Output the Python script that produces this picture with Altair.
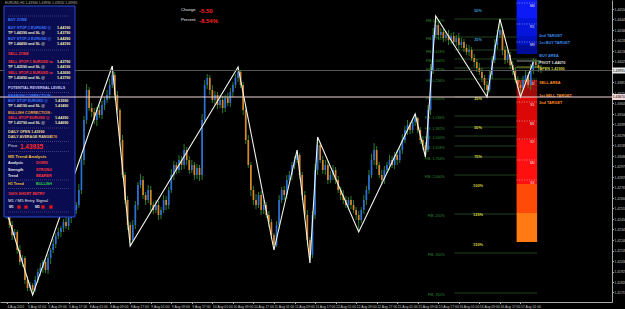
import json
import altair as alt
import pandas as pd

# ---------------- data ----------------
bar_index = list(range(209))
close = [
    1.4249, 1.4239, 1.4229, 1.4232, 1.4214, 1.4202, 1.4206, 1.4184, 1.4176, 1.4179,
    1.4174, 1.4184, 1.4192, 1.4196, 1.4202, 1.4194, 1.4206, 1.4214, 1.4220, 1.4228,
    1.4232, 1.4236, 1.4242, 1.4238, 1.4246, 1.4250, 1.4254, 1.4259, 1.4274, 1.4304,
    1.4344, 1.4374, 1.4356, 1.4352, 1.4344, 1.4354, 1.4349, 1.4359, 1.4364, 1.4369,
    1.4379, 1.4389, 1.4369, 1.4354, 1.4324, 1.4289, 1.4264, 1.4239, 1.4224, 1.4239,
    1.4259, 1.4279, 1.4284, 1.4269, 1.4264, 1.4274, 1.4259, 1.4254, 1.4259, 1.4249,
    1.4254, 1.4264, 1.4259, 1.4274, 1.4289, 1.4299, 1.4294, 1.4304, 1.4299, 1.4314,
    1.4304, 1.4294, 1.4299, 1.4289, 1.4296, 1.4289, 1.4344, 1.4379, 1.4386, 1.4374,
    1.4364, 1.4369, 1.4359, 1.4364, 1.4356, 1.4366, 1.4361, 1.4372, 1.4379, 1.4386,
    1.4392, 1.4379, 1.4354, 1.4324, 1.4299, 1.4274, 1.4264, 1.4259, 1.4269, 1.4254,
    1.4259, 1.4249, 1.4242, 1.4229, 1.4219, 1.4239, 1.4264, 1.4274, 1.4269, 1.4284,
    1.4289, 1.4299, 1.4304, 1.4309, 1.4289, 1.4269, 1.4249, 1.4224, 1.4209, 1.4249,
    1.4294, 1.4319, 1.4304, 1.4294, 1.4299, 1.4284, 1.4289, 1.4294, 1.4284, 1.4274,
    1.4269, 1.4264, 1.4259, 1.4264, 1.4259, 1.4254, 1.4249, 1.4244, 1.4254, 1.4264,
    1.4274, 1.4289, 1.4304, 1.4314, 1.4299, 1.4289, 1.4284, 1.4294, 1.4299, 1.4304,
    1.4299, 1.4309, 1.4304, 1.4314, 1.4324, 1.4334, 1.4339, 1.4334, 1.4342, 1.4346,
    1.4334, 1.4324, 1.4319, 1.4314, 1.4354, 1.4394, 1.4429, 1.4439, 1.4429, 1.4432,
    1.4426, 1.4429, 1.4424, 1.4428, 1.4422, 1.4426, 1.4419, 1.4422, 1.4416, 1.4412,
    1.4414, 1.4406, 1.4402, 1.4396, 1.4392, 1.4386, 1.4379, 1.4374, 1.4389, 1.4404,
    1.4419, 1.4429, 1.4434, 1.4414, 1.4404, 1.4409, 1.4399, 1.4394, 1.4384, 1.4379,
    1.4376, 1.4384, 1.4389, 1.4379, 1.4394, 1.4402, 1.4399, 1.4396, 1.4394,
]
first_open = 1.4254
wick_up_pips = [
    3, 2, 4, 3, 2, 5, 3, 2, 4, 3,   2, 4, 3, 5, 2, 3, 4, 2, 5, 3,
    4, 2, 3, 5, 3, 2, 4, 3, 6, 5,   4, 6, 3, 5, 4, 3, 5, 4, 3, 5,
    6, 9, 3, 4, 2, 5, 3, 4, 3, 5,   4, 3, 6, 4, 3, 5, 4, 3, 5, 4,
    3, 5, 4, 3, 6, 4, 3, 5, 4, 6,   3, 4, 5, 3, 4, 3, 6, 5, 4, 3,
    5, 4, 3, 5, 4, 3, 5, 4, 3, 4,   5, 2, 3, 4, 5, 3, 4, 6, 3, 4,
    5, 3, 4, 3, 2, 4, 5, 3, 4, 5,   4, 3, 4, 5, 2, 3, 4, 5, 3, 4,
    6, 8, 3, 4, 5, 3, 4, 5, 3, 4,   3, 5, 4, 3, 4, 5, 3, 4, 3, 5,
    4, 5, 6, 7, 4, 3, 5, 4, 3, 5,   4, 3, 5, 4, 6, 4, 5, 3, 3, 4,
    1, 3, 4, 3, 5, 6, 7, 9, 3, 4,   3, 4, 5, 3, 4, 3, 5, 4, 3, 4,
    5, 3, 4, 3, 5, 4, 3, 4, 5, 4,   6, 5, 11, 3, 4, 5, 3, 4, 3, 4,
    3, 4, 5, 3, 6, 4, 3, 4, 3,
]
wick_dn_pips = [
    4, 3, 5, 2, 4, 3, 5, 4, 3, 3,   5, 2, 3, 4, 5, 3, 4, 6, 3, 4,
    3, 5, 4, 3, 4, 5, 3, 4, 3, 4,   5, 4, 3, 5, 4, 6, 3, 4, 5, 3,
    4, 3, 5, 4, 6, 3, 4, 5, 6, 2,   4, 5, 3, 4, 5, 3, 6, 4, 3, 5,
    4, 3, 5, 4, 3, 5, 4, 3, 5, 4,   5, 4, 3, 5, 4, 6, 5, 3, 4, 5,
    3, 5, 4, 3, 5, 4, 3, 4, 5, 3,   4, 3, 5, 4, 3, 6, 5, 4, 3, 5,
    4, 3, 5, 4, 5, 2, 4, 3, 5, 4,   3, 5, 4, 3, 4, 5, 3, 6, 8, 3,
    4, 5, 3, 4, 5, 4, 3, 5, 4, 3,   5, 4, 3, 5, 4, 3, 5, 12, 3, 4,
    5, 4, 3, 5, 4, 3, 5, 4, 3, 5,   3, 4, 5, 3, 4, 3, 5, 4, 3, 4,
    3, 4, 5, 7, 2, 5, 4, 3, 4, 3,   4, 3, 5, 4, 3, 4, 5, 3, 4, 3,
    4, 3, 5, 4, 3, 4, 5, 7, 2, 4,   3, 4, 3, 5, 4, 3, 4, 5, 3, 4,
    9, 2, 4, 3, 5, 4, 3, 4, 3,
]

zigzag_bar = [0, 10, 41, 48, 90, 104, 113, 118, 121, 137, 159, 163, 167, 187, 192, 200, 205]
zigzag_price = [1.4251, 1.4169, 1.4398, 1.4218, 1.4397, 1.4214, 1.4314, 1.4201, 1.4327,
                1.4232, 1.4350, 1.4307, 1.4448, 1.4367, 1.4445, 1.4367, 1.4402]

# tick at 1.43920 is hidden behind the bid-price box in the reference
price_ticks = [1.44550, 1.44445, 1.44340, 1.44235, 1.44130, 1.44025, 1.43815,
               1.43710, 1.43605, 1.43500, 1.43395, 1.43290, 1.43185, 1.43080, 1.42975,
               1.42870, 1.42765, 1.42660, 1.42555, 1.42450, 1.42345, 1.42240, 1.42135,
               1.42030, 1.41925, 1.41820, 1.41715]
date_tick_bars = list(range(0, 201, 8))
date_labels = ["4 Aug 2011", "5 Aug 01:00", "5 Aug 09:00", "5 Aug 17:00", "8 Aug 01:00",
               "8 Aug 09:00", "8 Aug 17:00", "9 Aug 01:00", "9 Aug 09:00", "9 Aug 17:00",
               "10 Aug 01:00", "10 Aug 09:00", "10 Aug 17:00", "11 Aug 01:00", "11 Aug 09:00",
               "11 Aug 17:00", "12 Aug 01:00", "12 Aug 09:00", "12 Aug 17:00", "15 Aug 01:00",
               "15 Aug 09:00", "15 Aug 17:00", "16 Aug 01:00", "16 Aug 09:00", "16 Aug 17:00",
               "17 Aug 01:00"]

bid_price = 1.43935
marked_price = 1.4367
pivot_line_price = 1.4403
open_line_price = 1.4397

fib_names = ["FIB 1.000%", "FIB 0.764%", "FIB 0.618%", "FIB 0.500%", "FIB 0.382%",
             "FIB 0.236%", "FIB 0.000%", "FIB -1.236%", "FIB -1.382%", "FIB -1.500%",
             "FIB -1.618%", "FIB -1.764%", "FIB -2.000%", "FIB -250%", "FIB -300%", "FIB -350%"]
fib_prices = [1.4445, 1.4427, 1.4414, 1.4405, 1.4396, 1.4385, 1.4367, 1.4348,
              1.4337, 1.4328, 1.4318, 1.4307, 1.4289, 1.4250, 1.4211, 1.4171]

pct_names = ["50%", "25%", "25%", "50%", "75%", "100%", "125%", "150%"]
pct_prices = [1.4453, 1.4424, 1.4365, 1.4336, 1.4307, 1.4278, 1.4249, 1.4219]
pct_side = ["buy", "buy", "sell", "sell", "sell", "sell", "sell", "sell"]

zone_top = [1.4464, 1.4446, 1.4428, 1.4419, 1.4384, 1.4367, 1.4324, 1.4280, 1.4251]
zone_bottom = [1.4446, 1.4428, 1.4419, 1.4410, 1.4367, 1.4324, 1.4280, 1.4251, 1.4222]

pivot_names = ["M4", "R1", "M3", "M2", "S1", "M1", "S2", "M0", "S3"]
pivot_prices = [1.4461, 1.4440, 1.4422, 1.4383, 1.4362, 1.4343, 1.4325, 1.4304, 1.4284]

level_names = ["2nd TARGET", "1st BUY TARGET", "BUY AREA", "PIVOT 1.44070", "OPEN 1.43990",
               "SELL AREA", "1st SELL TARGET", "2nd TARGET"]
level_prices = [1.4428, 1.4421, 1.4408, 1.4401, 1.4395, 1.4381, 1.4368, 1.4361]

# ---------------- layout / style ----------------
W, H = 612, 302
FONT = "Liberation Sans"
BULL, BEAR, WICK = "#2b6fd8", "#d8862c", "#3a9a3a"
zone_colors = ["#0c1af5", "#0416dc", "#0012c0", "#000d98",
               "#a00c0c", "#dc0808", "#ff1010", "#ff4a08", "#ff7a12"]
level_colors = ["#3a8ae8", "#3a8ae8", "#3a8ae8", "#e0e0e0", "#c8d040",
                "#ff8c20", "#ff8c20", "#ff8c20"]
side_colors = {"buy": "#3a9ad6", "sell": "#d6d640"}
FIB_LABEL_BAR, FIB_LINE_START, FIB_LINE_END = 170.5, 174.3, 206.5
PCT_BAR = 183.5
ZONE_START, ZONE_END, ZONE_LABEL_BAR, LEVEL_LABEL_BAR = 198.5, 206.5, 204.6, 207.3

xs = alt.Scale(domain=[-0.77, 233.72], nice=False, zero=False)
ys = alt.Scale(domain=[1.4162, 1.4464], nice=False, zero=False)

label_expr = json.dumps(date_labels) + "[round(datum.value / 8)]"
x_axis = alt.Axis(values=date_tick_bars, labelExpr=label_expr, labelAlign="left",
                  labelBaseline="top", labelFontSize=3.4, labelFont=FONT,
                  labelColor="#c4c4c4", tickColor="#a8a8a8", tickSize=1.5, labelPadding=0.5,
                  domainColor="#a8a8a8", domainWidth=1, grid=False, title=None,
                  labelOverlap=False, labelFlush=False, labelBound=False)
y_axis = alt.Axis(orient="right", values=price_ticks, format=".5f", labelFontSize=3.3,
                  labelFont=FONT, labelColor="#c4c4c4", tickColor="#a8a8a8", tickSize=1.5,
                  labelPadding=0.5, domainColor="#a8a8a8", domainWidth=1, grid=False,
                  title=None, labelOverlap=False, labelFlush=False, labelBound=False)


def X(field):
    return alt.X(field, scale=xs, axis=x_axis)


def Y(field):
    return alt.Y(field, scale=ys, axis=y_axis)


def COL(field):
    return alt.Color(field, scale=None, legend=None)


opens = [first_open] + close[:-1]
highs = [max(o, c) + u / 10000 for o, c, u in zip(opens, close, wick_up_pips)]
lows = [min(o, c) - d / 10000 for o, c, d in zip(opens, close, wick_dn_pips)]
candles = pd.DataFrame({"bar": bar_index, "open": opens, "close": close,
                        "high": highs, "low": lows})
candles["fill"] = [BULL if c >= o else BEAR for o, c in zip(opens, close)]

layers = []

# fib lines (under the zones)
fib = pd.DataFrame({"name": fib_names, "price": fib_prices})
fib["x1"], fib["x2"], fib["xl"] = FIB_LINE_START, FIB_LINE_END, FIB_LABEL_BAR
layers.append(alt.Chart(fib).mark_rule(color="#244a24", strokeWidth=0.9).encode(
    x=X("x1:Q"), x2="x2:Q", y=Y("price:Q")))
layers.append(alt.Chart(fib).mark_text(align="right", baseline="top", dy=0.3, fontSize=3.6,
                                       font=FONT, color="#2f8a2f").encode(
    x=X("xl:Q"), y=Y("price:Q"), text="name:N"))

# pivot zones
zones = pd.DataFrame({"top": zone_top, "bottom": zone_bottom, "fill": zone_colors})
zones["x1"], zones["x2"] = ZONE_START, ZONE_END
layers.append(alt.Chart(zones).mark_rect().encode(
    x=X("x1:Q"), x2="x2:Q", y=Y("top:Q"), y2="bottom:Q", color=COL("fill:N")))
piv = pd.DataFrame({"name": pivot_names, "price": pivot_prices})
piv["x1"], piv["x2"], piv["xl"] = ZONE_START, ZONE_END, ZONE_LABEL_BAR
layers.append(alt.Chart(piv).mark_rule(color="#ffffff", strokeWidth=0.6, strokeDash=[1, 1.5],
                                       opacity=0.8).encode(x=X("x1:Q"), x2="x2:Q", y=Y("price:Q")))
layers.append(alt.Chart(piv).mark_text(align="center", baseline="top", dy=0.6, fontSize=3.4,
                                       font=FONT, color="#f0e0f0").encode(
    x=X("xl:Q"), y=Y("price:Q"), text="name:N"))

# short pivot / open lines
short = pd.DataFrame({"price": [pivot_line_price, open_line_price],
                      "fill": ["#b8b8b8", "#a8b830"]})
short["x1"], short["x2"] = ZONE_START, ZONE_END + 1.5
layers.append(alt.Chart(short).mark_rule(strokeWidth=0.8).encode(
    x=X("x1:Q"), x2="x2:Q", y=Y("price:Q"), color=COL("fill:N")))

# candles
layers.append(alt.Chart(candles).mark_rule(color=WICK, strokeWidth=0.8).encode(
    x=X("bar:Q"), y=Y("low:Q"), y2="high:Q"))
layers.append(alt.Chart(candles).mark_bar(size=1.7).encode(
    x=X("bar:Q"), y=Y("open:Q"), y2="close:Q", color=COL("fill:N")))

# zigzag
zz = pd.DataFrame({"bar": zigzag_bar, "price": zigzag_price})
layers.append(alt.Chart(zz).mark_line(color="#f4f4ee", strokeWidth=1.1).encode(
    x=X("bar:Q"), y=Y("price:Q")))

# percent labels
pct = pd.DataFrame({"name": pct_names, "price": pct_prices,
                    "fill": [side_colors[s] for s in pct_side]})
pct["xl"] = PCT_BAR
layers.append(alt.Chart(pct).mark_text(align="center", baseline="middle", fontSize=3.9,
                                       font=FONT, fontWeight="bold").encode(
    x=X("xl:Q"), y=Y("price:Q"), text="name:N", color=COL("fill:N")))

# level labels right of the zone
lev = pd.DataFrame({"name": level_names, "price": level_prices, "fill": level_colors})
lev["xl"] = LEVEL_LABEL_BAR
layers.append(alt.Chart(lev).mark_text(align="left", baseline="middle", fontSize=3.8,
                                       font=FONT, fontWeight="bold").encode(
    x=X("xl:Q"), y=Y("price:Q"), text="name:N", color=COL("fill:N")))

# bid line
layers.append(alt.Chart(pd.DataFrame({"price": [bid_price]})).mark_rule(
    color="#5e5e5e", strokeWidth=0.9).encode(y=Y("price:Q")))

ONE = pd.DataFrame({"k": [0]})


def txt(text, px, py, color, size=3.7, weight="bold", align="left"):
    return alt.Chart(ONE).mark_text(text=text, align=align, baseline="middle",
                                    fontSize=size, fontWeight=weight, color=color,
                                    font=FONT).encode(x=alt.value(px), y=alt.value(py))


# info panel
layers.append(alt.Chart(ONE).mark_rect(fill="#0a0c52", stroke="#2a4ad8", strokeWidth=1).encode(
    x=alt.value(4), x2=alt.value(75), y=alt.value(6), y2=alt.value(217)))
for dy in [16, 50, 83, 92.5, 128, 141.5, 151.5, 180, 188.5, 212]:
    layers.append(alt.Chart(ONE).mark_rule(color="#5c5c9c", strokeWidth=0.6,
                                           strokeDash=[1, 1]).encode(
        x=alt.value(8), x2=alt.value(70), y=alt.value(dy)))

# marked (pink) price line, drawn over the panel
layers.append(alt.Chart(pd.DataFrame({"price": [marked_price]})).mark_rule(
    color="#f2d6d6", strokeWidth=1).encode(y=Y("price:Q")))

C_BLUE, C_RED, C_VAL, C_TP = "#3c78ff", "#ff3636", "#f4ecb0", "#e8e4c8"
C_LAV, C_ORG, C_YEL, C_DAY = "#c8c8f4", "#f0a040", "#f2c23c", "#e8d890"
C_WHT, C_GRN = "#e6e6e6", "#30d040"
panel = [
    ("BUY ZONE", 8, 20, C_BLUE), ("BUY STOP-1 EURUSD @", 8, 28, C_BLUE),
    ("1.44190", 57, 28, C_VAL), ("TP 1.44390 and SL @", 8, 33, C_TP),
    ("1.43790", 57, 33, C_VAL), ("BUY STOP-2 EURUSD @", 8, 39, C_BLUE),
    ("1.44290", 57, 39, C_VAL), ("TP 1.44490 and SL @", 8, 44, C_TP),
    ("1.44190", 57, 44, C_VAL), ("SELL ZONE", 8, 54, C_RED),
    ("SELL STOP-1 EURUSD to", 8, 62, C_RED), ("1.43790", 57, 62, C_VAL),
    ("TP 1.43590 and SL @", 8, 67, C_TP), ("1.44190", 57, 67, C_VAL),
    ("SELL STOP-2 EURUSD to", 8, 73, C_RED), ("1.43690", 57, 73, C_VAL),
    ("TP 1.43490 and SL @", 8, 78, C_TP), ("1.43790", 57, 78, C_VAL),
    ("POTENTIAL REVERSAL LEVELS", 8, 88, C_LAV), ("BEARISH CORRECTION :", 8, 96, C_BLUE),
    ("BUY STOP EURUSD @", 8, 101, C_BLUE), ("1.43590", 55, 101, C_VAL),
    ("TP 1.44190 and SL @", 8, 106, C_TP), ("1.43490", 55, 106, C_VAL),
    ("BULLISH CORRECTION :", 8, 113, C_ORG), ("SELL STOP EURUSD @", 8, 118, C_RED),
    ("1.44290", 55, 118, C_VAL), ("TP 1.43790 and SL @", 8, 123, C_TP),
    ("1.44690", 55, 123, C_VAL), ("DAILY OPEN    1.43990", 8, 132, C_DAY),
    ("DAILY AVERAGE RANGE", 8, 137, C_DAY), ("176", 51, 137, C_ORG),
    ("Analysis", 8, 163, C_WHT), ("DOWN", 36, 163, C_RED),
    ("Strength", 8, 170, C_WHT), ("STRONG", 36, 170, C_RED),
    ("Trend", 8, 176, C_WHT), ("BEARER", 36, 176, C_RED),
    ("H1 Trend", 8, 184, C_YEL), ("BULLISH", 36, 184, C_GRN),
    ("100% SHORT ENTRY", 8, 194, C_RED),
]
for t, px, py, c in panel:
    layers.append(txt(t, px, py, c))
layers.append(txt("Price", 8, 146, C_WHT, 4.0, "normal"))
layers.append(txt("1.43935", 20, 146.5, "#ff2626", 6.4))
layers.append(txt("M5 Trend Analysis", 8, 157, C_YEL, 4.4))
layers.append(txt("M1 / M5 Entry Signal", 8, 201, C_WHT, 4.3, "normal"))
layers.append(txt("M1", 9, 207, C_WHT, 3.4))
layers.append(txt("M5", 35, 207, C_WHT, 3.4))
for sx in [19, 26, 43, 51]:
    layers.append(alt.Chart(ONE).mark_square(size=11, color="#e01414", opacity=1).encode(
        x=alt.value(sx), y=alt.value(207)))

# header texts
layers.append(txt("EURUSD,H1  1.43940 1.43990 1.43920 1.43935", 5, 2.5, "#b8b8b8", 3.4, "normal"))
layers.append(txt("Change", 181, 10, C_WHT, 4.2, "normal"))
layers.append(txt("-5.50", 199, 10.5, "#ff2020", 6))
layers.append(txt("Percent", 181, 19.5, C_WHT, 4.2, "normal"))
layers.append(txt("-8.54%", 199, 20.5, "#ff2020", 6))

# price boxes on the right axis
boxes = pd.DataFrame({"price": [bid_price, marked_price],
                      "label": ["1.43935", "1.43670"], "fill": ["#e8e8e8", "#f2d6d6"]})
layers.append(alt.Chart(boxes).mark_rule(strokeWidth=6).encode(
    x=alt.value(612), x2=alt.value(625), y=Y("price:Q"), color=COL("fill:N")))
layers.append(alt.Chart(boxes).mark_text(align="left", baseline="middle", fontSize=3.3,
                                         font=FONT, color="#000000").encode(
    x=alt.value(612.8), y=Y("price:Q"), text="label:N"))

chart = alt.layer(*layers).properties(
    width=W, height=H, background="#000000",
    padding={"left": 0, "top": 0, "right": 13, "bottom": 7},
    autosize=alt.AutoSizeParams(type="none"),
).configure_view(strokeWidth=0)

chart.save("out.html", embed_options={"renderer": "svg", "actions": False})
